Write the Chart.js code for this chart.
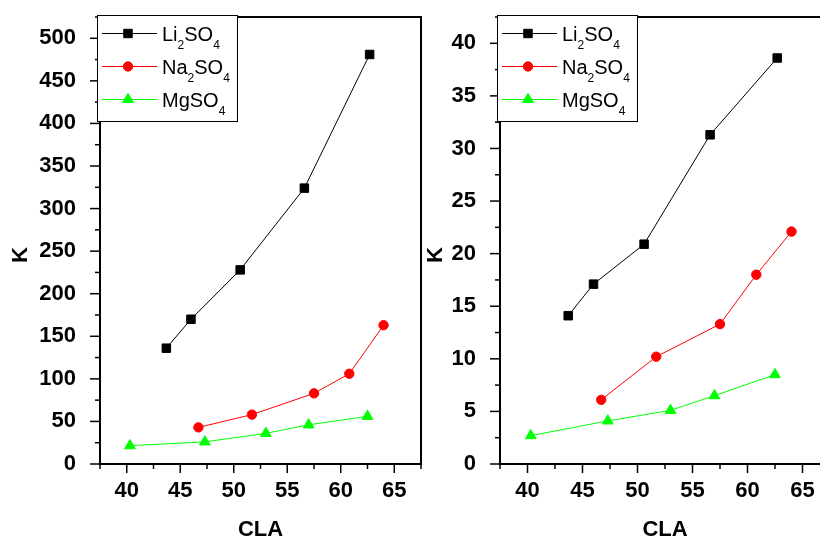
<!DOCTYPE html>
<html>
<head>
<meta charset="utf-8">
<script src="https://cdn.jsdelivr.net/npm/chart.js@4"></script>
<style>
  body { margin: 0; width: 820px; height: 540px; overflow: hidden; background: #fff; position: relative; }
  canvas { position: absolute; top: 0; }
  #left { left: 0; }
  #right { left: 425px; }
</style>
</head>
<body>
<canvas id="left" width="425" height="540"></canvas>
<canvas id="right" width="410" height="540"></canvas>
<script>
// CLA for each salt
const claLi = [43.7, 46.0, 50.6, 56.6, 62.7];
const claNa = [46.7, 51.7, 57.5, 60.8, 64.0];
const claMg = [40.3, 47.3, 53.0, 57.0, 62.5];

// K, left panel
const kLiLeft = [136, 170, 228, 324, 481];
const kNaLeft = [43, 58, 83, 106, 163];
const kMgLeft = [21.5, 26, 36, 46, 56];

// K, right panel
const kLiRight = [14.1, 17.1, 20.9, 31.3, 38.6];
const kNaRight = [6.1, 10.2, 13.3, 18.0, 22.1];
const kMgRight = [2.7, 4.1, 5.1, 6.5, 8.5];

// legend names, split into normal / subscript pieces
const nameLi = [['Li', 0], ['2', 1], ['SO', 0], ['4', 1]];
const nameNa = [['Na', 0], ['2', 1], ['SO', 0], ['4', 1]];
const nameMg = [['MgSO', 0], ['4', 1]];

const FONT = "'Liberation Sans', Arial, sans-serif";

function line(ctx, x1, y1, x2, y2) {
  ctx.beginPath();
  ctx.moveTo(x1, y1);
  ctx.lineTo(x2, y2);
  ctx.stroke();
}

function series(name, xs, ys, color, style, r) {
  return {
    name: name,
    data: xs.map((x, i) => ({ x: x, y: ys[i] })),
    showLine: true,
    borderColor: color,
    backgroundColor: color,
    borderWidth: 1,
    pointStyle: style,
    pointRadius: r,
    pointBorderWidth: 1,
  };
}

// frame, outward ticks, axis titles and the legend box
const decor = {
  id: 'decor',
  afterDraw(chart, args, o) {
    const { ctx, chartArea: a, scales: { x, y } } = chart;
    ctx.save();
    ctx.strokeStyle = '#000';
    ctx.lineWidth = 2;
    line(ctx, a.left - 1, a.top, a.right + 1, a.top);
    line(ctx, a.right, a.top, a.right, a.bottom);

    ctx.lineWidth = 1.5;
    x.ticks.forEach(t => {
      const px = x.getPixelForValue(t.value);
      line(ctx, px, a.bottom, px, a.bottom + (t.value % 5 === 0 ? 9 : 5));
    });
    y.ticks.forEach(t => {
      const py = y.getPixelForValue(t.value);
      line(ctx, a.left, py, a.left - (t.value % o.yMajor === 0 ? 10 : 5), py);
    });

    ctx.fillStyle = '#000';
    ctx.font = 'bold 22px ' + FONT;
    ctx.textAlign = 'center';
    ctx.textBaseline = 'middle';
    ctx.fillText('CLA', (a.left + a.right) / 2, 530);
    ctx.save();
    ctx.translate(o.kX, 255);
    ctx.rotate(-Math.PI / 2);
    ctx.fillText('K', 0, 0);
    ctx.restore();

    // legend
    const bx = a.left - 3, by = 15, bw = 140, bh = 106;
    ctx.fillStyle = '#fff';
    ctx.fillRect(bx, by, bw, bh);
    ctx.lineWidth = 1;
    ctx.strokeStyle = '#000';
    ctx.strokeRect(bx + 0.5, by + 0.5, bw, bh);
    chart.data.datasets.forEach((ds, i) => {
      const ry = by + 18.5 + i * 33;
      ctx.strokeStyle = ds.borderColor;
      ctx.lineWidth = 1;
      line(ctx, bx + 5, ry, bx + 60, ry);
      ctx.fillStyle = ds.backgroundColor;
      Chart.helpers.drawPoint(ctx, { pointStyle: ds.pointStyle, radius: ds.pointRadius, borderWidth: 1, rotation: 0 }, bx + 31, ry);
      let tx = bx + 65;
      ctx.fillStyle = '#000';
      ctx.textAlign = 'left';
      ctx.textBaseline = 'alphabetic';
      ds.name.forEach(([s, sub]) => {
        ctx.font = (sub ? '12px ' : '20px ') + FONT;
        ctx.fillText(s, tx, ry + 7 + (sub ? 8 : 0));
        tx += ctx.measureText(s).width;
      });
    });
    ctx.restore();
  }
};

function makeChart(id, lists, yMax, yStep, yMajor, yWidth, padRight, kX) {
  return new Chart(document.getElementById(id), {
    type: 'scatter',
    data: {
      datasets: [
        series(nameLi, claLi, lists[0], '#000000', 'rect', 6),
        series(nameNa, claNa, lists[1], '#ff0000', 'circle', 4.7),
        series(nameMg, claMg, lists[2], '#00ff00', 'triangle', 6.2),
      ],
    },
    options: {
      responsive: false,
      animation: false,
      devicePixelRatio: 1,
      layout: { autoPadding: false, padding: { top: 17, right: padRight, left: 0, bottom: 0 } },
      plugins: { legend: { display: false }, tooltip: { enabled: false }, decor: { yMajor: yMajor, kX: kX } },
      scales: {
        x: {
          min: 37.5, max: 67.5,
          grid: { display: false },
          border: { display: true, color: '#000', width: 2 },
          ticks: {
            stepSize: 2.5, autoSkip: false, maxRotation: 0, padding: 6,
            color: '#000', font: { family: FONT, size: 22, weight: 'bold' },
            callback: v => (v % 5 === 0 ? v : ''),
          },
          afterFit: s => { s.height = 76; s.paddingLeft = 0; s.paddingRight = 0; },
        },
        y: {
          min: 0, max: yMax,
          grid: { display: false },
          border: { display: true, color: '#000', width: 2 },
          ticks: {
            stepSize: yStep, autoSkip: false, padding: 16,
            color: '#000', font: { family: FONT, size: 22, weight: 'bold' },
            callback: v => (v % yMajor === 0 ? v : ''),
          },
          afterFit: s => { s.width = yWidth; s.paddingTop = 0; s.paddingBottom = 0; },
        },
      },
    },
    plugins: [decor],
  });
}

makeChart('left', [kLiLeft, kNaLeft, kMgLeft], 525, 25, 50, 100, 4, 21);
makeChart('right', [kLiRight, kNaRight, kMgRight], 42.5, 2.5, 5, 75, 5, 11);
</script>
</body>
</html>
